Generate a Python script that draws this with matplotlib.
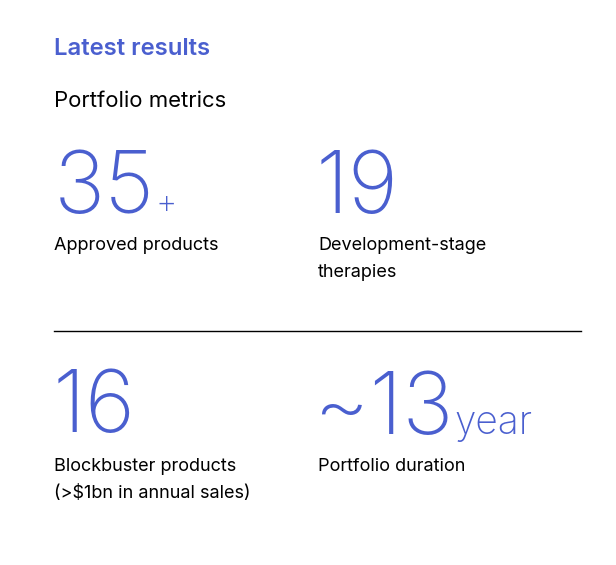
import matplotlib
matplotlib.use("Agg")
import matplotlib.pyplot as plt

W, H = 616, 565
BLUE = "#4a5fcf"

title = "Latest results"
subtitle = "Portfolio metrics"
values = ["35", "19", "16", "~13"]
suffixes = ["+", "", "", "year"]
labels = ["Approved products\n", "Development-stage\ntherapies",
          "Blockbuster products\n(>$1bn in annual sales)", "Portfolio duration\n"]

plt.rcParams["font.family"] = ["Inter", "DejaVu Sans"]

fig = plt.figure(figsize=(W / 100, H / 100), dpi=100)
fig.patch.set_facecolor("white")


def px(x, y):
    # pixel position from top-left -> figure fraction
    return x / W, 1 - y / H


fig.text(*px(54, 55), title, color=BLUE, fontsize=17.2, fontweight="semibold", va="baseline")
fig.text(*px(54, 107), subtitle, color="black", fontsize=15.9, va="baseline")

# grid positions of the 4 metrics
num_x = [54, 316, 53, 314]
lab_x = [54, 318, 54, 318]
num_base = [213, 213, 432, 434]
lab_base = [250, 250, 471, 471]

renderer = fig.canvas.get_renderer()
for i in range(4):
    t = fig.text(*px(num_x[i], num_base[i]), values[i], color=BLUE, fontsize=62,
                 fontweight="light", va="baseline")
    if suffixes[i]:
        bb = t.get_window_extent(renderer)
        sfs = 24 if suffixes[i] == "+" else 28
        fig.text((bb.x1 + 1) / W, 1 - num_base[i] / H, suffixes[i], color=BLUE,
                 fontsize=sfs, fontweight="light", va="baseline")
    first, second = labels[i].split("\n")
    fig.text(*px(lab_x[i], lab_base[i]), first, fontsize=13,
             color="black", va="baseline")
    if second:
        fig.text(*px(lab_x[i], lab_base[i] + 27), second, fontsize=13,
                 color="black", va="baseline")

fig.add_artist(plt.Line2D([54 / W, 581 / W], [1 - 331 / H, 1 - 331 / H],
                          color="black", linewidth=1))

fig.savefig("out.png", dpi=100, facecolor="white")
